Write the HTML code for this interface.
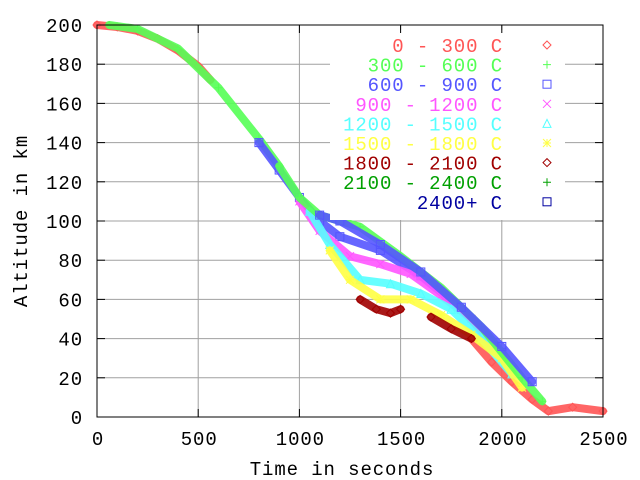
<!DOCTYPE html>
<html><head><meta charset="utf-8">
<style>
body{margin:0;background:#fff;}
svg{display:block;font-family:"Liberation Mono",monospace;}
text{font-size:19px;letter-spacing:0.9px;}
</style></head><body>
<svg width="640" height="480" viewBox="0 0 640 480">
<g id="grid"></g>
<g id="series"></g>
<rect x="330" y="30" width="235" height="190" fill="#fff"/>
<g id="axes"></g>
<g id="legend"></g>
<text x="27" y="221" transform="rotate(-90 27 221)" text-anchor="middle" fill="#000">Altitude in km</text>
<text x="342" y="475" text-anchor="middle" fill="#000">Time in seconds</text>
</svg>
<script>
const xTicks=[0,500,1000,1500,2000,2500];
const yTicks=[0,20,40,60,80,100,120,140,160,180,200];
const seriesNames=["0 - 300 C","300 - 600 C","600 - 900 C","900 - 1200 C","1200 - 1500 C","1500 - 1800 C","1800 - 2100 C","2100 - 2400 C","2400+ C"];
const seriesColors=["#ff5555","#55ff55","#5555ff","#ff55ff","#55ffff","#ffff44","#a00000","#00a000","#0000a0"];
const markerColors=["#ff5555","#55ff55","#5555ff","#ff55ff","#55ffff","#ffff44","#a00000","#55ff55","#5555ff"];
const markerTypes=["diamond","plus","square","cross","triangle","star","diamond","plus","square"];
const s0t=[0,100,200,300,400,500,560,null,1850,1950,2050,2150,2230,2350,2500];
const s0a=[200,199,197,193,187,179,172,null,40,28,18,9,3,5,3];
const s1t=[60,200,400,600,800,900];
const s1a=[200,198,188,168,142,128];
const s2t=[800,900,1000,1100,1200,1400,1600,1800,2000];
const s2a=[140,126,112,100,92,85,72,55,33];
const s3t=[1000,1100,1250,1400,1550,1700,1850,2000];
const s3a=[110,95,82,78,73,62,50,30];
const s4t=[1050,1150,1300,1450,1600,1750,1900,2050];
const s4a=[105,88,70,68,63,55,40,22];
const s5t=[1150,1250,1400,1550,1700,1850,2000,2100];
const s5a=[85,70,60,60,52,42,30,15];
const s6t=[1300,1380,1450,1500,null,1650,1750,1850];
const s6a=[60,55,53,55,null,51,45,40];
const s7t=[900,1000,1100,1300,1500,1700,1900,2100,2200];
const s7a=[128,112,103,97,82,66,46,20,8];
const s8t=[1100,1200,1400,1600,1800,2000,2150];
const s8a=[103,100,88,74,56,36,18];
const allT=[s0t,s1t,s2t,s3t,s4t,s5t,s6t,s7t,s8t];
const allA=[s0a,s1a,s2a,s3a,s4a,s5a,s6a,s7a,s8a];
const NS="http://www.w3.org/2000/svg";
const X=t=>97+t*506/2500, Y=a=>417-a*392/200;
function mk(tag,attrs,parent){const e=document.createElementNS(NS,tag);for(const k in attrs)e.setAttribute(k,attrs[k]);parent.appendChild(e);return e;}
const grid=document.getElementById('grid'),axes=document.getElementById('axes'),ser=document.getElementById('series'),leg=document.getElementById('legend');
xTicks.forEach(t=>{
  if(t>0&&t<2500){const l=mk('line',{x1:X(t),x2:X(t),y1:25,y2:417,stroke:'#a0a0a0','stroke-width':1},grid);
  
  }
  const tk=mk('line',{x1:X(t),x2:X(t),y1:409,y2:417,stroke:'#000'},axes);
  
  
  const tk2=mk('line',{x1:X(t),x2:X(t),y1:25,y2:33,stroke:'#000'},axes);
  
  
  const tx=mk('text',{x:X(t)+1,y:445,'text-anchor':'middle',fill:'#000'},axes);tx.textContent=t;
  
  
});
yTicks.forEach(a=>{
  if(a>0&&a<200){const l=mk('line',{x1:97,x2:603,y1:Y(a),y2:Y(a),stroke:'#a0a0a0','stroke-width':1},grid);
  
  }
  const tk=mk('line',{x1:97,x2:105,y1:Y(a),y2:Y(a),stroke:'#000'},axes);
  
  
  const tk2=mk('line',{x1:595,x2:603,y1:Y(a),y2:Y(a),stroke:'#000'},axes);
  
  
  const tx=mk('text',{x:83,y:Y(a)+7,'text-anchor':'end',fill:'#000'},axes);tx.textContent=a;
  
  
});
const frame=mk('rect',{x:97,y:25,width:506,height:392,fill:'none',stroke:'#000','stroke-width':1},axes);


function marker(type,x,y,c,p,s){
  let e;
  if(type==='diamond')e=mk('path',{d:`M${x-s} ${y}L${x} ${y-s}L${x+s} ${y}L${x} ${y+s}Z`,fill:'none',stroke:c},p);
  else if(type==='plus')e=mk('path',{d:`M${x-s} ${y}H${x+s}M${x} ${y-s}V${y+s}`,stroke:c},p);
  else if(type==='square')e=mk('rect',{x:x-s,y:y-s,width:2*s,height:2*s,fill:'none',stroke:c},p);
  else if(type==='cross')e=mk('path',{d:`M${x-s} ${y-s}L${x+s} ${y+s}M${x+s} ${y-s}L${x-s} ${y+s}`,stroke:c},p);
  else if(type==='triangle')e=mk('path',{d:`M${x-s} ${y+s}L${x} ${y-s}L${x+s} ${y+s}Z`,fill:'none',stroke:c},p);
  else e=mk('path',{d:`M${x-s} ${y}H${x+s}M${x} ${y-s}V${y+s}M${x-s} ${y-s}L${x+s} ${y+s}M${x+s} ${y-s}L${x-s} ${y+s}`,stroke:c},p);
  return e;
}
allT.forEach((ts,i)=>{
  const g=mk('g',{},ser);
  
  
  let d='',start=true;
  ts.forEach((t,j)=>{ if(t===null){start=true;return;} d+=(start?'M':'L')+X(t)+' '+Y(allA[i][j]); start=false;});
  const p=mk('path',{d:d,fill:'none',stroke:seriesColors[i<7?i:(i===7?1:2)],'stroke-width':8,'stroke-linejoin':'round','stroke-linecap':'round',opacity:0.9},g);
  
  
  ts.forEach((t,j)=>{ if(t===null)return;
    const m=marker(markerTypes[i],X(t),Y(allA[i][j]),markerColors[i],g,4);
    
    
  });
});
seriesNames.forEach((n,i)=>{
  const y=45+i*19.6;
  const tx=mk('text',{x:503,y:y+7,'text-anchor':'end',fill:seriesColors[i]},leg);tx.textContent=n;
  
  
  const m=marker(markerTypes[i],547,y,seriesColors[i],leg,4);
  
  
});
</script>
</body></html>
